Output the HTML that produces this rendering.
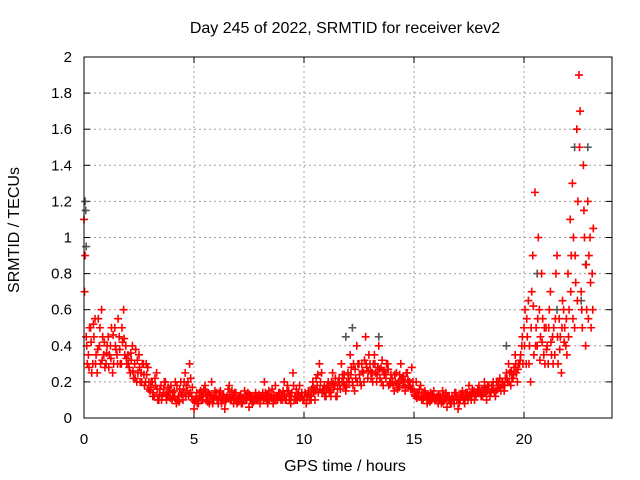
<!DOCTYPE html>
<html><head><meta charset="utf-8"><style>
body{margin:0;background:#fff}
svg{display:block;font-family:"Liberation Sans",sans-serif}
</style></head><body>
<svg id="chart" width="640" height="480">
<text x="345" y="33" font-size="16" text-anchor="middle">Day 245 of 2022, SRMTID for receiver kev2</text>
<text x="345" y="471" font-size="16" text-anchor="middle">GPS time / hours</text>
<text transform="translate(19,230) rotate(-90)" font-size="16" text-anchor="middle">SRMTID / TECUs</text>
<g id="grid"></g><g id="ticks"></g><g id="marks"></g>
<rect x="84" y="57" width="528" height="361" fill="none" stroke="#000" stroke-width="1"/>
</svg>
<script>
const xTicks=[0,5,10,15,20];
const yTicks=[0,0.2,0.4,0.6,0.8,1,1.2,1.4,1.6,1.8,2];
const yTickLabels=["0","0.2","0.4","0.6","0.8","1","1.2","1.4","1.6","1.8","2"];
const redV=[
1.1,0.45,0.35,0.5,0.3,0.55,0.25,0.4,0.6,0.35,
0.3,0.45,0.4,0.25,0.5,0.35,0.45,0.3,0.6,0.4,
0.35,0.25,0.4,0.3,0.2,0.35,0.25,0.3,0.2,0.28,
0.15,0.2,0.12,0.25,0.1,0.18,0.14,0.2,0.12,0.15,
0.1,0.15,0.08,0.12,0.2,0.1,0.25,0.15,0.3,0.12,
0.05,0.12,0.08,0.15,0.1,0.18,0.12,0.08,0.2,0.1,
0.12,0.08,0.15,0.1,0.05,0.12,0.18,0.1,0.08,0.14,
0.1,0.12,0.08,0.15,0.1,0.06,0.12,0.09,0.14,0.1,
0.08,0.12,0.2,0.1,0.15,0.12,0.08,0.18,0.1,0.14,
0.12,0.2,0.1,0.15,0.08,0.25,0.12,0.1,0.18,0.14,
0.1,0.08,0.15,0.12,0.2,0.1,0.18,0.3,0.25,0.15,
0.12,0.2,0.15,0.25,0.18,0.12,0.22,0.3,0.2,0.15,
0.25,0.35,0.2,0.15,0.4,0.3,0.18,0.25,0.45,0.22,
0.3,0.25,0.35,0.2,0.4,0.28,0.18,0.25,0.3,0.2,
0.22,0.15,0.25,0.2,0.3,0.18,0.15,0.25,0.2,0.28,
0.15,0.2,0.12,0.18,0.1,0.15,0.08,0.12,0.1,0.15,
0.1,0.08,0.12,0.15,0.1,0.06,0.12,0.08,0.1,0.14,
0.05,0.1,0.15,0.08,0.12,0.18,0.1,0.14,0.12,0.16,
0.15,0.12,0.2,0.1,0.18,0.14,0.2,0.12,0.16,0.22,
0.2,0.15,0.25,0.3,0.18,0.22,0.35,0.2,0.3,0.4,
0.5,0.3,0.65,0.2,0.9,1.25,0.4,0.6,0.8,0.35,
0.5,0.3,0.7,0.45,0.35,0.9,0.55,0.25,0.6,0.4,
0.8,1.1,1.3,0.5,1.6,1.9,0.7,1.4,0.4,1.2,
1.0,0.8];
const redV2=[
0.9,0.3,0.5,0.25,0.45,0.35,0.55,0.3,0.45,0.28,
0.4,0.35,0.5,0.3,0.38,0.55,0.3,0.42,0.35,0.3,
0.28,0.32,0.22,0.38,0.25,0.2,0.3,0.18,0.24,0.2,
0.2,0.14,0.18,0.1,0.16,0.12,0.2,0.1,0.14,0.18,
0.12,0.2,0.1,0.16,0.14,0.2,0.18,0.12,0.22,0.1,
0.1,0.08,0.14,0.12,0.16,0.1,0.14,0.12,0.08,0.15,
0.1,0.14,0.08,0.12,0.1,0.16,0.1,0.12,0.14,0.08,
0.12,0.08,0.1,0.12,0.14,0.1,0.08,0.12,0.1,0.13,
0.12,0.1,0.14,0.08,0.12,0.16,0.1,0.12,0.14,0.1,
0.15,0.1,0.18,0.12,0.14,0.1,0.16,0.14,0.12,0.1,
0.14,0.12,0.1,0.16,0.14,0.22,0.14,0.2,0.16,0.12,
0.18,0.14,0.2,0.16,0.12,0.2,0.16,0.24,0.18,0.2,
0.2,0.28,0.3,0.22,0.3,0.2,0.26,0.32,0.28,0.35,
0.22,0.3,0.25,0.28,0.22,0.32,0.24,0.3,0.18,0.24,
0.18,0.2,0.16,0.24,0.22,0.2,0.25,0.18,0.16,0.2,
0.12,0.14,0.16,0.1,0.14,0.12,0.1,0.14,0.12,0.1,
0.12,0.1,0.08,0.12,0.14,0.1,0.08,0.12,0.14,0.1,
0.08,0.12,0.1,0.14,0.1,0.12,0.16,0.1,0.14,0.18,
0.12,0.16,0.14,0.18,0.12,0.16,0.14,0.2,0.18,0.15,
0.18,0.22,0.2,0.25,0.22,0.28,0.25,0.3,0.35,0.3,
0.6,0.45,0.4,0.7,0.35,0.5,1.0,0.45,0.55,0.3,
0.4,0.6,0.35,0.5,0.8,0.3,0.45,0.65,0.5,0.35,
0.6,0.9,1.0,0.75,1.2,1.7,0.5,1.0,0.6,0.9,
0.5,1.05];
const redV3=[
0.7,0.4,0.28,0.42,0.52,0.3,0.38,0.5,0.32,0.42,
0.36,0.28,0.33,0.46,0.4,0.3,0.38,0.5,0.44,0.33,
0.3,0.36,0.26,0.22,0.32,0.28,0.2,0.24,0.3,0.16,
0.17,0.12,0.22,0.16,0.13,0.1,0.16,0.13,0.17,0.11,
0.14,0.11,0.18,0.09,0.13,0.16,0.12,0.2,0.14,0.17,
0.09,0.14,0.11,0.1,0.13,0.15,0.09,0.13,0.11,0.12,
0.14,0.11,0.1,0.13,0.09,0.11,0.13,0.15,0.11,0.1,
0.09,0.13,0.11,0.1,0.12,0.13,0.11,0.1,0.12,0.11,
0.1,0.14,0.11,0.13,0.1,0.11,0.13,0.1,0.12,0.11,
0.1,0.13,0.15,0.1,0.12,0.18,0.1,0.13,0.11,0.12,
0.12,0.1,0.13,0.1,0.17,0.15,0.24,0.16,0.14,0.18,
0.16,0.17,0.12,0.19,0.22,0.16,0.18,0.2,0.24,0.17,
0.22,0.24,0.18,0.27,0.2,0.24,0.3,0.2,0.3,0.26,
0.26,0.2,0.3,0.24,0.27,0.2,0.26,0.22,0.27,0.19,
0.2,0.24,0.19,0.17,0.21,0.23,0.17,0.21,0.18,0.16,
0.13,0.11,0.14,0.12,0.11,0.13,0.12,0.09,0.13,0.11,
0.11,0.13,0.1,0.09,0.11,0.12,0.1,0.11,0.08,0.12,
0.1,0.13,0.12,0.11,0.14,0.13,0.12,0.15,0.13,0.14,
0.14,0.13,0.17,0.15,0.14,0.18,0.16,0.15,0.2,0.17,
0.2,0.18,0.22,0.2,0.26,0.24,0.3,0.27,0.32,0.45,
0.4,0.55,0.3,0.5,0.62,0.4,0.55,0.32,0.42,0.5,
0.38,0.5,0.42,0.3,0.55,0.45,0.38,0.5,0.42,0.55,
0.45,0.7,0.55,0.9,0.65,1.5,0.6,1.15,0.85,0.55,
0.75,0.6];
const grayT=[0.05,0.08,0.1,11.9,12.2,13.4,19.2,20.6,21.5,22.3,22.6,22.8,22.9];
const grayV=[1.2,1.15,0.95,0.45,0.5,0.45,0.4,0.8,0.6,1.5,0.65,0.85,1.5];
const X0=84,X1=612,Y0=418,Y1=57,XMAX=24,YMAX=2;
const sx=t=>X0+t/XMAX*(X1-X0);
const sy=v=>Y0-v/YMAX*(Y0-Y1);
const NS='http://www.w3.org/2000/svg';
const grid=document.getElementById('grid'),ticks=document.getElementById('ticks'),marks=document.getElementById('marks');
function mk(tag,attrs,parent){const e=document.createElementNS(NS,tag);for(const k in attrs)e.setAttribute(k,attrs[k]);parent.appendChild(e);return e;}
xTicks.forEach(t=>{
 const x=sx(t);
 if(t>0){const g=mk('line',{x1:x,x2:x,y1:Y0,y2:Y1,stroke:'#a0a0a0','stroke-dasharray':'2,3'},grid);
 
 }
 mk('line',{x1:x,x2:x,y1:Y0,y2:Y0-6,stroke:'#000'},ticks);
 mk('line',{x1:x,x2:x,y1:Y1,y2:Y1+6,stroke:'#000'},ticks);
 const l=mk('text',{x:x,y:444,'font-size':15,'text-anchor':'middle'},ticks);l.textContent=t;
 
 
});
yTicks.forEach((v,i)=>{
 const y=sy(v);
 if(v>0&&v<2){const g=mk('line',{x1:X0,x2:X1,y1:y,y2:y,stroke:'#a0a0a0','stroke-dasharray':'2,3'},grid);
 
 }
 mk('line',{x1:X0,x2:X0+6,y1:y,y2:y,stroke:'#000'},ticks);
 mk('line',{x1:X1,x2:X1-6,y1:y,y2:y,stroke:'#000'},ticks);
 const l=mk('text',{x:72,y:y+5,'font-size':15,'text-anchor':'end'},ticks);l.textContent=yTickLabels[i];
 
 
});
function plus(t,v,color,name){
 const x=sx(t),y=sy(v);
 const p=mk('path',{d:`M${x-4},${y}h8M${x},${y-4}v8`,stroke:color,'stroke-width':1.6,fill:'none'},marks);
 
 
}
grayT.forEach((t,i)=>plus(t,grayV[i],'#555','gray-point'));
redV.forEach((v,i)=>plus(i*0.1,v,'#f00','red-point'));
redV2.forEach((v,i)=>plus(i*0.1+0.05,v,'#f00','red-point'));
redV3.forEach((v,i)=>plus(i*0.1+0.025,v,'#f00','red-point'));
</script>
</body></html>
